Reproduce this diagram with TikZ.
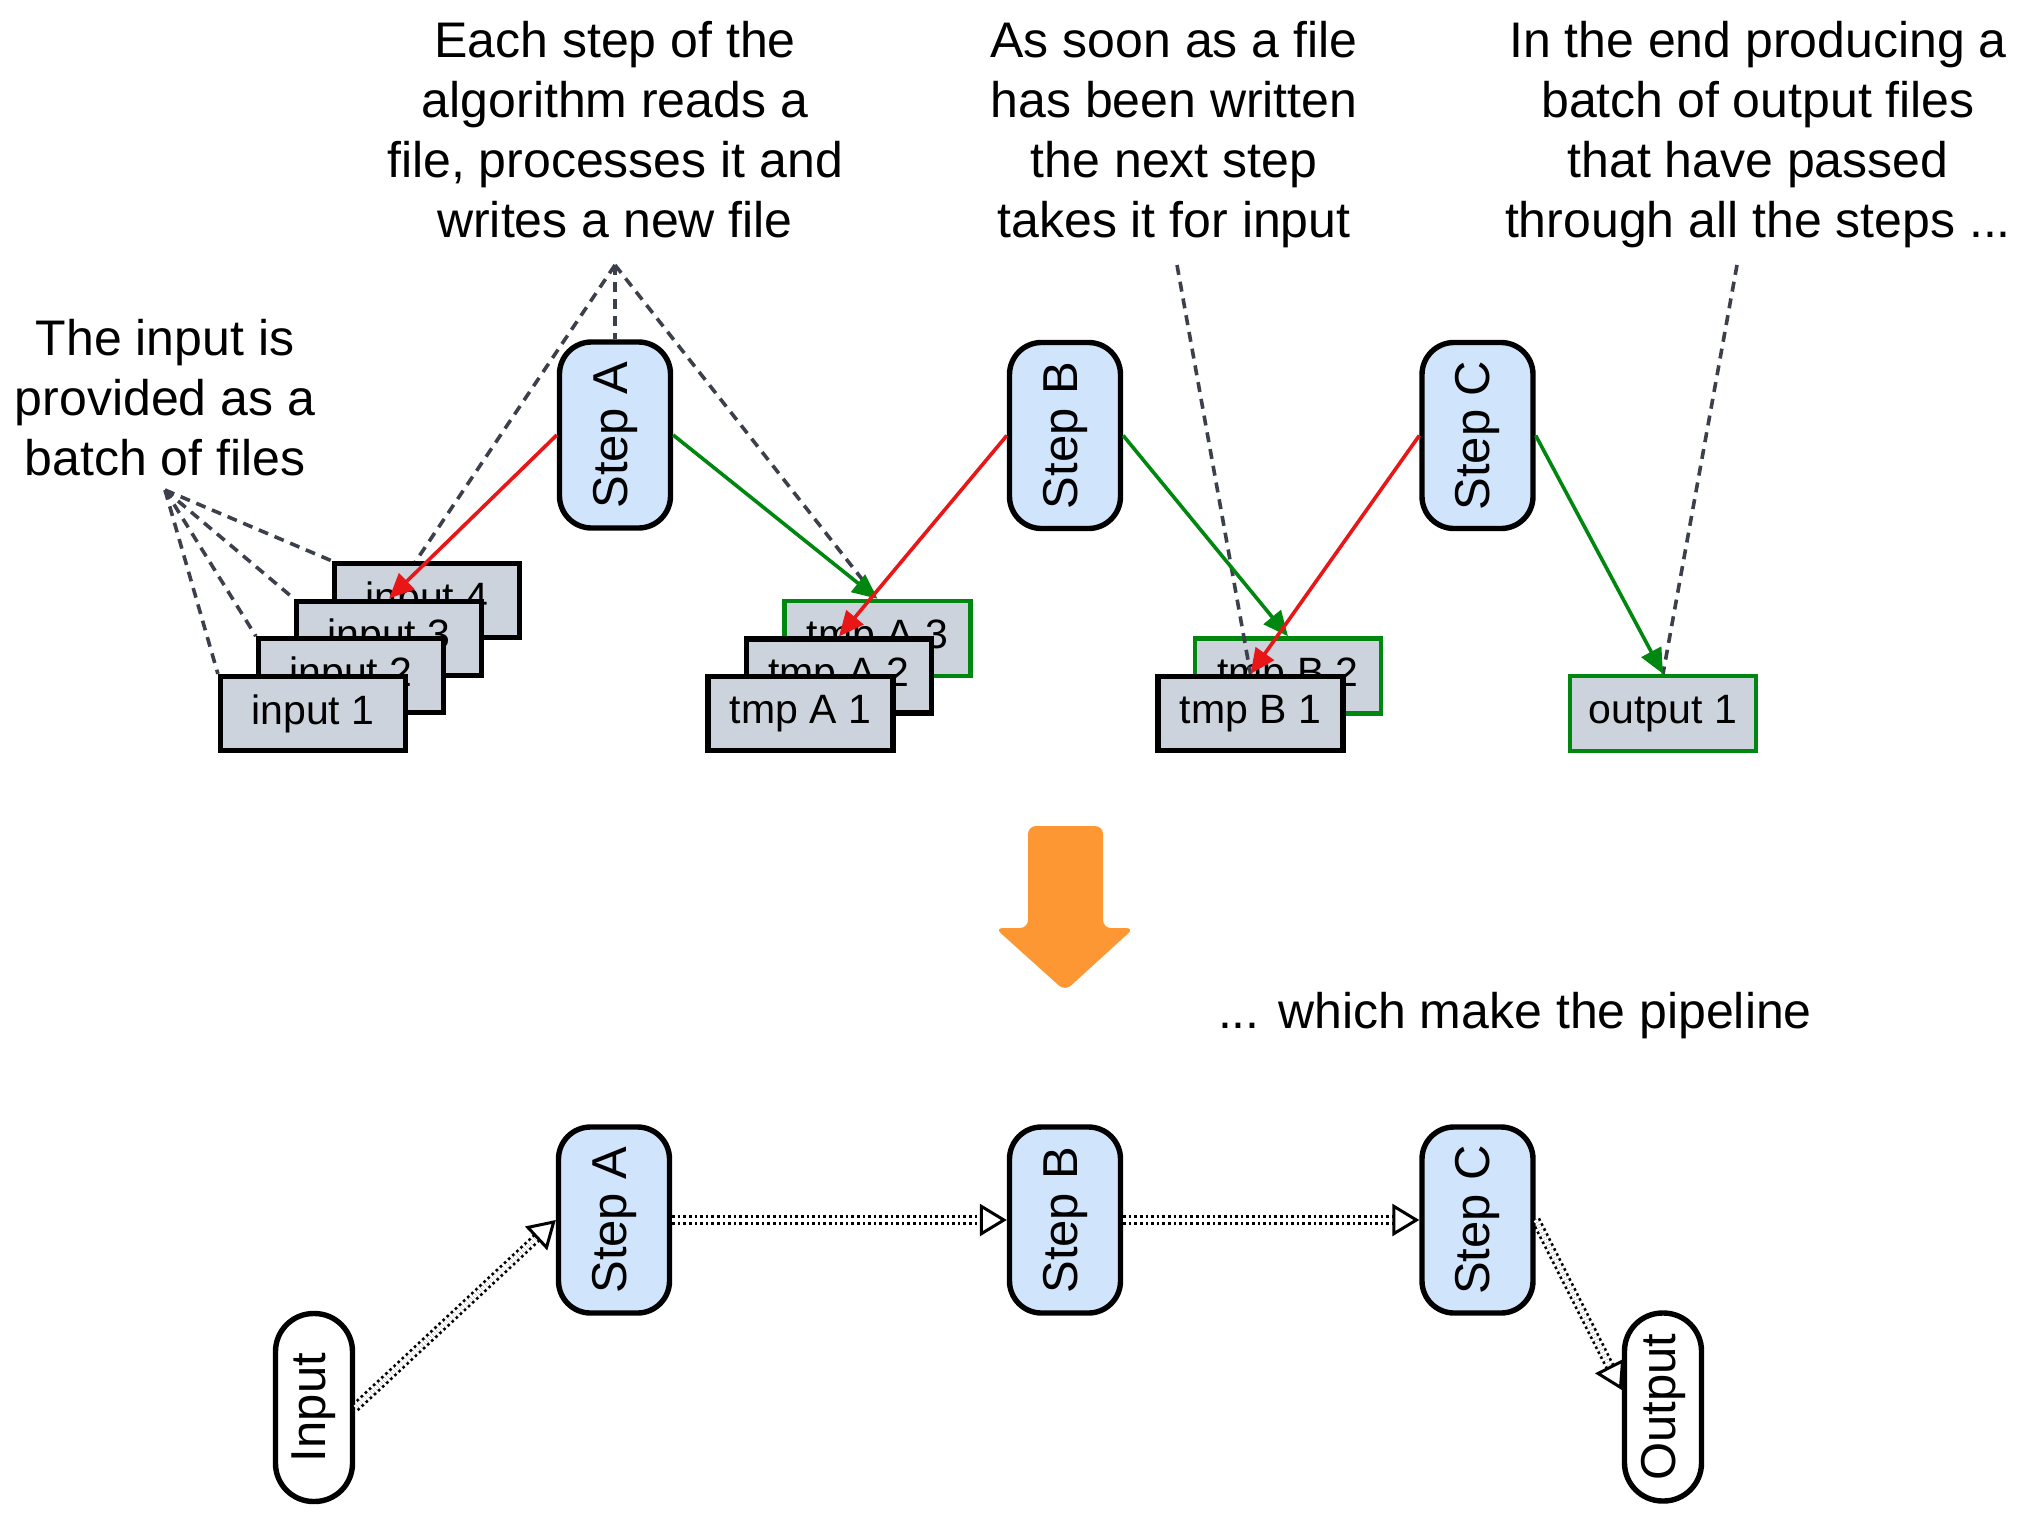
\documentclass[tikz,border=0pt]{standalone}
\usepackage{fontspec}
\setmainfont{Liberation Sans}
\usetikzlibrary{arrows.meta,calc}
\definecolor{stepfill}{RGB}{208,228,252}
\definecolor{filefill}{RGB}{205,211,220}
\definecolor{okgreen}{RGB}{0,135,15}
\definecolor{errred}{RGB}{232,22,22}
\definecolor{dashgray}{RGB}{60,64,75}
\definecolor{orangearrow}{RGB}{252,151,51}
\begin{document}
\begin{tikzpicture}[x=0.5pt,y=-0.5pt,
  stepbox/.style={draw=black, line width=2.7pt, fill=stepfill, rounded corners=16pt,
    minimum width=55.5pt, minimum height=93pt, inner sep=0pt,
    font=\fontsize{24.5pt}{29pt}\selectfont},
  iobox/.style={draw=black, line width=2.7pt, fill=white, rounded corners=19pt,
    minimum width=38.5pt, minimum height=94pt, inner sep=0pt,
    font=\fontsize{24.5pt}{29pt}\selectfont},
  filebox/.style={draw=black, line width=2.6pt, fill=filefill,
    minimum width=92.5pt, minimum height=37pt, inner sep=0pt,
    font=\fontsize{20.5pt}{24pt}\selectfont},
  donebox/.style={filebox, draw=okgreen, line width=2.2pt,
    minimum width=93pt, minimum height=37.5pt},
  note/.style={align=center, font=\fontsize{25pt}{30pt}\selectfont, inner sep=0pt, anchor=base},
  hint/.style={draw=dashgray, line width=1.8pt, dash pattern=on 5pt off 3.5pt},
  readarrow/.style={draw=errred, line width=1.8pt, -{Triangle[length=12.5pt,width=11pt]}},
  writearrow/.style={draw=okgreen, line width=1.8pt, -{Triangle[length=12.5pt,width=11pt]}},
  flow/.style={draw=black, line width=1.35pt, double=white, double distance=2.2pt,
    dash pattern=on 1.3pt off 1.5pt,
    -{Triangle[open, length=13.5pt, width=16pt, line width=1.5pt]}},
]
\useasboundingbox (0,0) rectangle (2034,1521);

% notes (base = baseline of the last line)
\node[note] (noteIn) at (165,475) {The input is\\provided as a\\batch of files};
\node[note] (noteStep) at (615,237.5) {Each step of the\\algorithm reads a\\file, processes it and\\writes a new file};
\node[note] (noteNext) at (1174,237.5) {As soon as a file\\has been written\\the next step\\takes it for input};
\node[note] (noteEnd) at (1758,237.5) {In the end producing a\\batch of output files\\that have passed\\through all the steps ...};
\node[note] (notePipe) at (1515,1028) {... which make the pipeline};

\coordinate (apIn) at (165,490);
\coordinate (apStep) at (615,265);
\coordinate (apNext) at (1177,265);
\coordinate (apEnd) at (1737,265);

% line that passes behind input 4
\coordinate (in3top) at (389,601);
\draw[hint] (apStep) -- (in3top);

% file boxes
\node[filebox] (in4) at (427,600.5) {input 4};
\node[filebox] (in3) at (389,638.2) {input 3};
\node[filebox] (in2) at (351,675.8) {input 2};
\node[filebox] (in1) at (313,713.5) {input 1};

\node[donebox] (tA3) at (877.5,638.5) {tmp A 3};
\node[filebox] (tA2) at (839,676) {tmp A 2};
\node[filebox] (tA1) at (800.5,713.5) {tmp A 1};

\node[donebox] (tB2) at (1288,676) {tmp B 2};
\node[filebox] (tB1) at (1250.5,713.5) {tmp B 1};

\node[donebox] (out1) at (1663,713.5) {output 1};

% steps
\node[stepbox] (sA) at (615,435) {\rotatebox{90}{Step A}};
\node[stepbox] (sB) at (1065,435.5) {\rotatebox{90}{Step B}};
\node[stepbox] (sC) at (1477.5,435.5) {\rotatebox{90}{Step C}};

% dashed hints
\draw[hint] (apIn) -- (in4.north west);
\draw[hint] (apIn) -- (in3.north west);
\draw[hint] (apIn) -- (in2.north west);
\draw[hint] (apIn) -- (in1.north west);
\draw[hint] (apStep) -- (sA.north);
\draw[hint] (apStep) -- (tA3.north);
\draw[hint] (apNext) -- (tB1.north);
\draw[hint] (apEnd) -- (out1.north);

% read / write arrows
\draw[readarrow] (sA.west) -- (in3.north);
\draw[writearrow] (sA.east) -- (tA3.north);
\draw[readarrow] (sB.west) -- (tA2.north);
\draw[writearrow] (sB.east) -- (tB2.north);
\draw[readarrow] (sC.west) -- (tB1.north);
\draw[writearrow] (sC.east) -- (out1.north);

% big orange arrow
\fill[orangearrow, rounded corners=4pt] (1028,826) -- (1103,826) -- (1103,928) -- (1134,928)
  -- (1065,991) -- (995,928) -- (1028,928) -- cycle;

% pipeline
\node[iobox] (inp) at (314,1407.5) {\rotatebox{90}{Input}};
\node[stepbox] (bA) at (614,1220) {\rotatebox{90}{Step A}};
\node[stepbox] (bB) at (1065,1220) {\rotatebox{90}{Step B}};
\node[stepbox] (bC) at (1477.5,1220) {\rotatebox{90}{Step C}};
\node[iobox] (outp) at (1663,1407) {\rotatebox{90}{Output}};
\coordinate (outpin) at ($(outp.west)+(0,-17)$);

\draw[flow] (inp.east) -- (bA.west);
\draw[flow] (bA.east) -- (bB.west);
\draw[flow] (bB.east) -- (bC.west);
\draw[flow] (bC.east) -- (outpin);
\end{tikzpicture}
\end{document}
